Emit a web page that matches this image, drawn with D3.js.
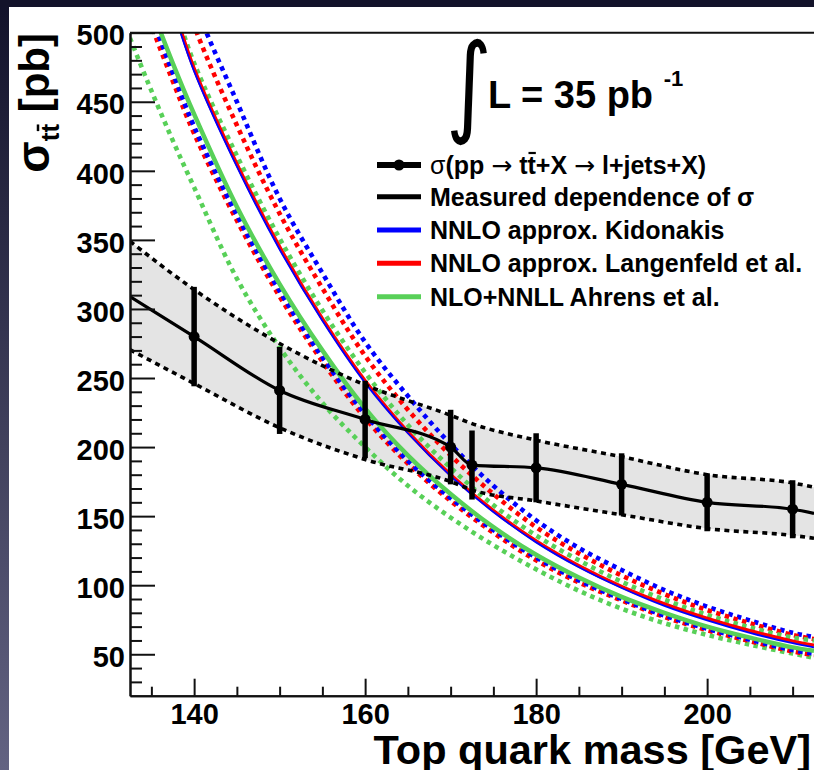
<!DOCTYPE html>
<html><head><meta charset="utf-8">
<script src="https://cdn.jsdelivr.net/npm/d3@7/dist/d3.min.js"></script>
<style>body{margin:0;background:#1a1a30}svg{display:block}</style>
</head><body>
<script>
// ---------- DATA ----------
const theoryMass = [132.5,135,137.5,140,145,150,155,160,165,170,175,180,185,190,195,200,205,210,212.5];
// NNLO approx. Kidonakis (blue)
const kidCentral = [609,562,517,472,403,343,291.5,246.5,210,179,153,131,113,98,85,74.5,65.5,58,55];
const kidUpper   = [680,628,578,523,450,380,326,276,237,202,172,147,127,111,96.5,84.5,74.5,65.5,62.5];
const kidLower   = [552,512,471,432,368,313,265,224,190,163,140,120,103.5,90,78,68.5,60.5,53,50.5];
// NNLO approx. Langenfeld et al. (red)
const lanCentral = [612,565,520,474,405,345,293,248,211,180,154,132,114,99,86.5,76,67,59.5,56.5];
const lanUpper   = [650,600,552,505,433,369,315,266,227,194,166,142,123,107,93.5,82,72.5,64,61];
const lanLower   = [545,505,465,427,364,309,262,221,188,161,138,118,102,89,77,67.5,59.5,52,49.5];
// NLO+NNLL Ahrens et al. (green)
const ahrCentral = [560,518,478,441,374,318,270,228,194,166,142,122,105.5,91.5,80,70,62,55,52.5];
const ahrUpper   = [615,568,523,478,411,351,299,254,216,185,158,136,118,102.5,89.5,78.5,69.5,62,60];
const ahrLower   = [496,458,422,388,322,272,232,200,172,149,129,111.5,96,83,72.5,64,57,50.5,47.5];

// Measured dependence of sigma
const measMass    = [132.5,140,150,160,170,172.5,180,190,200,210,212.5];
const measCentral = [309,280,241,220,200,187,185,173,160,155,152];
const measUpper   = [349,314,275,245,223,217,205,193,180,174,171];
const measLower   = [270.5,246,214,191,175,169,161,151,141,136,134];

// Measured points sigma(pp -> tt+X -> l+jets+X)
const pointMass = [140,150,160,170,172.5,180,190,200,210];
const pointXsec = [280,241,220,200,187,185,173,160,155];
const pointErr  = [36,31.5,28,27,25,25,22.5,21,21];

const xMajorTicks = [140,160,180,200];
const xMinorTicks = [135,145,150,155,165,170,175,185,190,195,205,210];
const yMajorTicks = [50,100,150,200,250,300,350,400,450,500];
const yMinorTicks = [30,40,60,70,80,90,110,120,130,140,160,170,180,190,210,220,230,240,260,270,280,290,310,320,330,340,360,370,380,390,410,420,430,440,460,470,480,490];

const legendLabels = ["Measured dependence of σ","NNLO approx. Kidonakis","NNLO approx. Langenfeld et al.","NLO+NNLL Ahrens et al."];
const BLUE = "#0000ff", RED = "#ff0000", GREEN = "#58d058";

// ---------- DRAW ----------
const W = 814, H = 770;
const FONT = "'Liberation Sans', Arial, Helvetica, sans-serif";
const svg = d3.select("body").append("svg").attr("width", W).attr("height", H);
const defs = svg.append("defs");
const grad = defs.append("linearGradient").attr("id","bg").attr("x1",0).attr("y1",0).attr("x2",0).attr("y2",1);
grad.append("stop").attr("offset","0%").attr("stop-color","#12122a");
grad.append("stop").attr("offset","100%").attr("stop-color","#636382");
svg.append("rect").attr("width",W).attr("height",H).attr("fill","url(#bg)");
svg.append("rect").attr("x",0).attr("y",0).attr("width",W).attr("height",7).attr("fill","#13132a");
svg.append("rect").attr("x",9).attr("y",7).attr("width",W-9).attr("height",H-7).attr("fill","#ffffff");

const x = d3.scaleLinear().domain([132.5,212.5]).range([130,814]);
const y = d3.scaleLinear().domain([20,500]).range([695.7,32.7]);

defs.append("clipPath").attr("id","plot").append("rect")
  .attr("x",130).attr("y",32.7).attr("width",684).attr("height",663);

const plot = svg.append("g").attr("clip-path","url(#plot)");

// band
const area = d3.area().x((d,i)=>x(measMass[i])).y0((d,i)=>y(measLower[i])).y1((d,i)=>y(measUpper[i])).curve(d3.curveMonotoneX);
plot.append("path").datum(measMass).attr("d",area).attr("fill","#e4e4e4");

function curveLine(masses, vals, color, width, dash) {
  const line = d3.line().x((d,i)=>x(masses[i])).y((d,i)=>y(vals[i])).curve(d3.curveCatmullRom.alpha(0.5));
  const p = plot.append("path").datum(vals).attr("d",line).attr("fill","none")
    .attr("stroke",color).attr("stroke-width",width);
  if (dash) p.attr("stroke-dasharray",dash);
  return p;
}
const DOT = "4.5,4.5";
// theory dotted uncertainties
curveLine(theoryMass, ahrLower, GREEN, 4.6, DOT);
curveLine(theoryMass, lanLower, RED, 4.6, DOT);
curveLine(theoryMass, kidLower, BLUE, 4.6, DOT);
curveLine(theoryMass, kidUpper, BLUE, 4.6, DOT);
curveLine(theoryMass, lanUpper, RED, 4.6, DOT);
curveLine(theoryMass, ahrUpper, GREEN, 4.6, DOT);
// theory centrals
curveLine(theoryMass, ahrCentral, GREEN, 4.5);
curveLine(theoryMass, lanCentral, RED, 3.5);
curveLine(theoryMass, kidCentral, BLUE, 1.8);

// band edges and central measured line
const mline = vals => d3.line().x((d,i)=>x(measMass[i])).y((d,i)=>y(vals[i])).curve(d3.curveMonotoneX);
plot.append("path").datum(measUpper).attr("d",mline(measUpper)).attr("fill","none").attr("stroke","#000").attr("stroke-width",3.6).attr("stroke-dasharray","5,4.5");
plot.append("path").datum(measLower).attr("d",mline(measLower)).attr("fill","none").attr("stroke","#000").attr("stroke-width",3.6).attr("stroke-dasharray","5,4.5");
plot.append("path").datum(measCentral).attr("d",mline(measCentral)).attr("fill","none").attr("stroke","#000").attr("stroke-width",3.2);

// error bars and markers
plot.selectAll("line.err").data(pointMass).enter().append("line").attr("class","err")
  .attr("x1",(d)=>x(d)).attr("x2",(d)=>x(d))
  .attr("y1",(d,i)=>y(pointXsec[i]+pointErr[i])).attr("y2",(d,i)=>y(pointXsec[i]-pointErr[i]))
  .attr("stroke","#000").attr("stroke-width",5.5);
plot.selectAll("circle.pt").data(pointMass).enter().append("circle").attr("class","pt")
  .attr("cx",(d)=>x(d)).attr("cy",(d,i)=>y(pointXsec[i])).attr("r",5.5).attr("fill","#000");

// axes
const axStyle = g => {
  g.selectAll("path.domain").attr("stroke","#111").attr("stroke-width",2);
  g.selectAll(".tick line").attr("stroke","#111").attr("stroke-width",2);
  g.selectAll("text").attr("fill","#000").style("font-family",FONT).style("font-weight","bold").style("font-size","29px");
};
svg.append("g").attr("transform","translate(0,695.7)")
  .call(d3.axisBottom(x).tickValues(xMinorTicks).tickSize(-9).tickSizeOuter(0).tickFormat(""))
  .call(axStyle);
svg.append("g").attr("transform","translate(0,695.7)")
  .call(d3.axisBottom(x).tickValues(xMajorTicks).tickSize(-17).tickSizeOuter(0).tickPadding(7.5).tickFormat(d3.format("d")))
  .call(axStyle);
svg.append("g").attr("transform","translate(130,0)")
  .call(d3.axisLeft(y).tickValues(yMinorTicks).tickSize(-12).tickSizeOuter(0).tickFormat(""))
  .call(axStyle);
const yAx = svg.append("g").attr("transform","translate(130,0)")
  .call(d3.axisLeft(y).tickValues(yMajorTicks).tickSize(-25).tickSizeOuter(0).tickPadding(5).tickFormat(d3.format("d")))
  .call(axStyle);
yAx.selectAll("text").attr("dy","0.42em");
// top frame
svg.append("line").attr("x1",130).attr("x2",814).attr("y1",32.7).attr("y2",32.7).attr("stroke","#111").attr("stroke-width",2);

// axis titles
svg.append("text").attr("x",811).attr("y",764).attr("text-anchor","end")
  .style("font-family",FONT).style("font-weight","bold").style("font-size","41.5px").text("Top quark mass [GeV]");

const yt = svg.append("g").attr("transform","translate(49,33) rotate(-90)");
const ytText = yt.append("text").attr("x",0).attr("y",0).attr("text-anchor","end")
  .style("font-family",FONT).style("font-weight","bold").style("font-size","42px");
ytText.append("tspan").style("font-size","46px").text("σ");
ytText.append("tspan").attr("dy",10).style("font-size","26px").text("tt");
ytText.append("tspan").attr("dy",-10).text(" [pb]");
{
  const n = ytText.node();
  const s = n.getStartPositionOfChar(2), e = n.getEndPositionOfChar(2);
  yt.append("line").attr("x1",s.x+1.5).attr("x2",e.x-0.5).attr("y1",s.y-21).attr("y2",s.y-21)
    .attr("stroke","#000").attr("stroke-width",2.5);
}

// luminosity label
svg.append("text").attr("transform","translate(446,121.5) scale(0.8,1)")
  .style("font-family","'DejaVu Sans', sans-serif").style("font-size","110px").text("∫");
const lum = svg.append("text").attr("x",488).attr("y",108.3)
  .style("font-family",FONT).style("font-weight","bold").style("font-size","38px");
lum.append("tspan").text("L = 35 pb ");
lum.append("tspan").attr("dy",-22).style("font-size","22px").text("-1");

// legend
const LX1 = 377, LX2 = 421, TX = 430;
const legY = [165, 196.7, 230, 263.3, 296.7];
const leg = svg.append("g");
leg.append("line").attr("x1",LX1).attr("x2",LX2).attr("y1",legY[0]).attr("y2",legY[0]).attr("stroke","#000").attr("stroke-width",6);
leg.append("circle").attr("cx",(LX1+LX2)/2).attr("cy",legY[0]).attr("r",5.5).attr("fill","#000");
const ARROWFONT = "'DejaVu Sans', sans-serif";
const t1 = leg.append("text").attr("x",TX).attr("y",legY[0]+9)
  .style("font-family",FONT).style("font-weight","bold").style("font-size","25px");
t1.append("tspan").style("font-weight","normal").text("σ");
t1.append("tspan").text("(pp ");
t1.append("tspan").style("font-weight","normal").style("font-family",ARROWFONT).text("→");
t1.append("tspan").text(" tt+X ");
t1.append("tspan").style("font-weight","normal").style("font-family",ARROWFONT).text("→");
t1.append("tspan").text(" l+jets+X)");
{
  const n = t1.node();
  const s = n.getStartPositionOfChar(8), e = n.getEndPositionOfChar(8);
  leg.append("line").attr("x1",s.x+1).attr("x2",e.x).attr("y1",s.y-21).attr("y2",s.y-21)
    .attr("stroke","#000").attr("stroke-width",2.2);
}
const legColors = ["#000", BLUE, RED, GREEN];
legendLabels.forEach((lab,i) => {
  const yy = legY[i+1];
  leg.append("line").attr("x1",LX1).attr("x2",LX2).attr("y1",yy).attr("y2",yy).attr("stroke",legColors[i]).attr("stroke-width",5);
  leg.append("text").attr("x",TX).attr("y",yy+9)
    .style("font-family",FONT).style("font-weight","bold").style("font-size","25px").text(lab);
});
</script>
</body></html>
